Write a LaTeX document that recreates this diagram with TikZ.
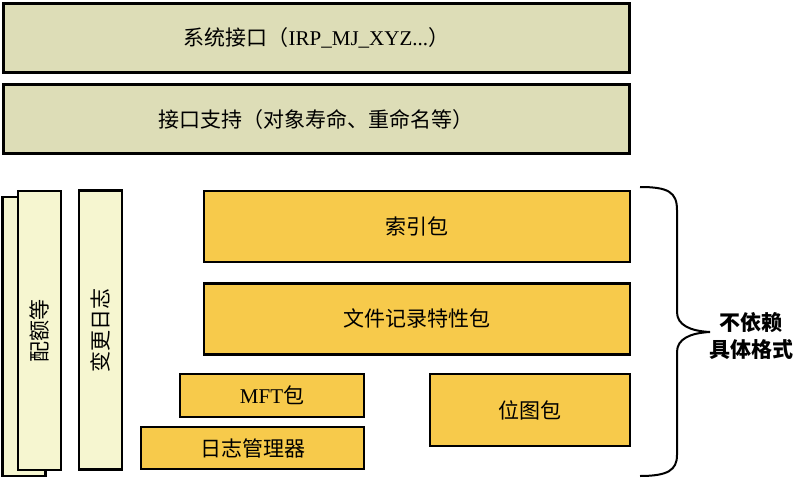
\documentclass[tikz,border=0pt]{standalone}
\usepackage{fontspec}
\setmainfont{Liberation Serif}
\newfontfamily\zhfont{Noto Sans CJK SC}
\usepackage{tikz}
\usetikzlibrary{positioning}
\definecolor{layerolive}{RGB}{221,221,183}
\definecolor{sidepale}{RGB}{246,246,208}
\definecolor{pkggold}{RGB}{247,202,75}
\newcommand{\zh}[1]{{\zhfont #1}}

\begin{document}
\begin{tikzpicture}[x=1pt, y=-1pt, node distance=9.6pt,
    layer/.style={draw, line width=2.8pt, fill=layerolive, inner sep=0pt,
        minimum width=626pt, minimum height=69pt,
        font=\fontsize{21}{24}\selectfont},
    sidebar/.style={draw, line width=2.6pt, fill=sidepale, inner sep=0pt,
        rotate=90, minimum width=279pt, minimum height=43pt,
        font=\zhfont\fontsize{21}{24}\selectfont},
    package/.style={draw, line width=2.6pt, fill=pkggold, inner sep=0pt,
        font=\fontsize{21}{24}\selectfont} ]
    \useasboundingbox (0,0) rectangle (798,479);
    \node[layer, anchor=north west] (sysif) at (2,2)
        {\zh{系统接口（}IRP\_MJ\_XYZ...\zh{）}};
    \node[layer, below=of sysif] (ifsup)
        {\zh{接口支持（对象寿命、重命名等）}};
    \node[sidebar] (quota back) at (24,336.5) {};
    \node[sidebar] (quota) at (39.5,330.5) {配额等};
    \node[sidebar] (changelog) at (100.5,330) {变更日志};
    \node[package, minimum width=426pt, minimum height=71pt] (index) at (417,226.5)
        {\zh{索引包}};
    \node[package, minimum width=426pt, minimum height=71pt, below=18.6pt of index] (filerec)
        {\zh{文件记录特性包}};
    \node[package, minimum width=184pt, minimum height=43pt] (mft) at (272,395.5)
        {MFT\zh{包}};
    \node[package, minimum width=223pt, minimum height=42pt] (logmgr) at (252.5,448)
        {\zh{日志管理器}};
    \node[package, minimum width=200pt, minimum height=72pt] (bitmap) at (530,410)
        {\zh{位图包}};
    \coordinate (brace top) at (640,187);
    \coordinate (brace tip) at (710,332);
    \coordinate (brace bottom) at (640,476);
    \draw[line width=2pt] (brace top) .. controls (668,187) and (677,192) .. (677,210)
        -- (677,312) .. controls (677,325) and (690,331) .. (brace tip)
        .. controls (690,333) and (677,339) .. (677,352)
        -- (677,455) .. controls (677,470) and (668,476) .. (brace bottom);
    \node[font=\zhfont\bfseries\fontsize{21}{27}\selectfont, align=center] (indep) at (751,336)
        {不依赖\\具体格式};
\end{tikzpicture}
\end{document}
